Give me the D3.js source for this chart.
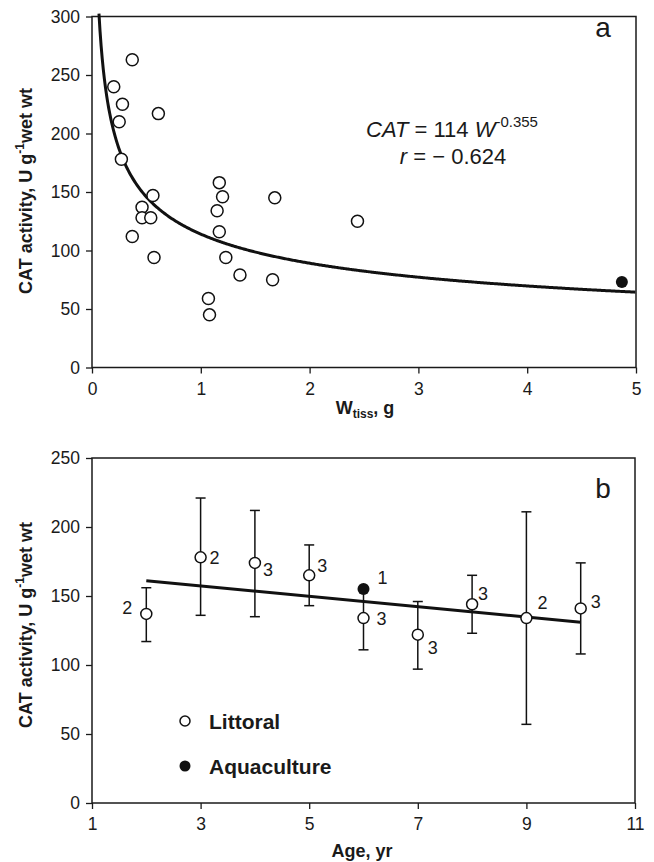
<!DOCTYPE html>
<html>
<head>
<meta charset="utf-8">
<script src="https://cdn.jsdelivr.net/npm/d3@7"></script>
<style>
  body { margin: 0; background: #fff; }
  svg text { font-family: Arial, "Liberation Sans", sans-serif; fill: #1a1a1a; }
</style>
</head>
<body>
<svg id="chart" width="654" height="862"></svg>
<script>
// panel a: tissue weight (g) vs CAT activity
var wtissLittoral = [0.37, 0.20, 0.28, 0.25, 0.61, 0.27, 1.17, 1.20, 1.68, 1.15, 0.56, 0.46, 0.46, 0.54, 0.37, 1.17, 0.57, 1.23, 1.36, 1.66, 1.07, 1.08, 2.44];
var catLittoral = [263, 240, 225, 210, 217, 178, 158, 146, 145, 134, 147, 137, 128, 128, 112, 116, 94, 94, 79, 75, 59, 45, 125];
var wtissAqua = [4.87];
var catAqua = [73];
var fitA = 114, fitB = -0.355;
var xTicksA = [0, 1, 2, 3, 4, 5];
var yTicksA = [0, 50, 100, 150, 200, 250, 300];

// panel b: age vs CAT activity (mean, upper, lower, n)
var ages = [2, 3, 4, 5, 6, 7, 8, 9, 10];
var meanB = [137, 178, 174, 165, 134, 122, 144, 134, 141];
var upperB = [156, 221, 212, 187, 156, 146, 165, 211, 174];
var lowerB = [117, 136, 135, 143, 111, 97, 123, 57, 108];
var nB = [2, 2, 3, 3, 3, 3, 3, 2, 3];
var aquaAge = [6], aquaMean = [155], aquaN = [1];
var trendAge = [2, 10], trendCat = [161, 131];
var xTicksB = [1, 3, 5, 7, 9, 11];
var yTicksB = [0, 50, 100, 150, 200, 250];

// label offsets for n (layout only)
var nOffset = [[-19, -6], [14, 0], [13, 7], [13, -10], [18, 0], [15, 13], [11, -11], [16, -16], [15, -7]];

var svg = d3.select('#chart');

function frame(g, x, y, xt, yt) {
    var x0 = x.range()[0], x1 = x.range()[1], y0 = y.range()[0], y1 = y.range()[1];
    g.append('g').attr('transform', `translate(0,${y0})`)
        .call(d3.axisBottom(x).tickValues(xt).tickFormat(d3.format('d')).tickSize(6).tickPadding(9))
        .call(a => a.select('.domain').remove());
    g.append('g').attr('transform', `translate(${x0},0)`)
        .call(d3.axisLeft(y).tickValues(yt).tickFormat(d3.format('d')).tickSize(6).tickPadding(6))
        .call(a => a.select('.domain').remove());
    g.selectAll('.tick line').attr('stroke', '#1a1a1a').attr('stroke-width', 1.3);
    g.selectAll('.tick text').style('font-size', '17.5px').attr('fill', '#1a1a1a');
    g.append('rect')
        .attr('x', x0).attr('y', y1)
        .attr('width', x1 - x0).attr('height', y0 - y1)
        .attr('fill', 'none').attr('stroke', '#1a1a1a').attr('stroke-width', 1.5);
}

function yTitle(cy) {
    var t = svg.append('text')
        .attr('transform', `translate(32,${cy}) rotate(-90)`)
        .attr('text-anchor', 'middle')
        .style('font-size', '18px').style('font-weight', 'bold');
    t.append('tspan').text('CAT activity, U g');
    t.append('tspan').attr('dy', -8).style('font-size', '12px').text('-1');
    t.append('tspan').attr('dy', 8).text('wet wt');
}

// ---------- panel a ----------
var xa = d3.scaleLinear().domain([0, 5]).range([92, 636]);
var ya = d3.scaleLinear().domain([0, 300]).range([367.5, 16.5]);
var ga = svg.append('g');
frame(ga, xa, ya, xTicksA, yTicksA);

var curveW = d3.range(0.064, 5.0001, 0.01);
ga.append('path')
    .datum(curveW)
    .attr('fill', 'none').attr('stroke', '#111').attr('stroke-width', 3)
    .attr('d', d3.line().x(w => xa(w)).y(w => ya(fitA * Math.pow(w, fitB))));

ga.selectAll('.lit').data(wtissLittoral).enter().append('circle')
    .attr('cx', d => xa(d)).attr('cy', (d, i) => ya(catLittoral[i])).attr('r', 6)
    .attr('fill', '#fff').attr('stroke', '#111').attr('stroke-width', 1.5);
ga.selectAll('.aq').data(wtissAqua).enter().append('circle')
    .attr('cx', d => xa(d)).attr('cy', (d, i) => ya(catAqua[i])).attr('r', 6)
    .attr('fill', '#111');

var f1 = ga.append('text').attr('x', 452).attr('y', 137).attr('text-anchor', 'middle').style('font-size', '22px');
f1.append('tspan').style('font-style', 'italic').text('CAT');
f1.append('tspan').text(' = 114 ');
f1.append('tspan').style('font-style', 'italic').text('W');
f1.append('tspan').attr('dy', -10).style('font-size', '15px').text('-0.355');
var f2 = ga.append('text').attr('x', 453).attr('y', 164).attr('text-anchor', 'middle').style('font-size', '22px');
f2.append('tspan').style('font-style', 'italic').text('r');
f2.append('tspan').text(' = \u2212 0.624');
ga.append('text').attr('x', 603).attr('y', 37).attr('text-anchor', 'middle').style('font-size', '28px').text('a');

var wt = svg.append('text').attr('x', 365).attr('y', 414).attr('text-anchor', 'middle')
    .style('font-size', '18px').style('font-weight', 'bold');
wt.append('tspan').text('W');
wt.append('tspan').attr('dy', 4).style('font-size', '12px').text('tiss');
wt.append('tspan').attr('dy', -4).text(', g');
yTitle(191);

// ---------- panel b ----------
var xb = d3.scaleLinear().domain([1, 11]).range([92, 635]);
var yb = d3.scaleLinear().domain([0, 250]).range([803, 458]);
var gb = svg.append('g');
frame(gb, xb, yb, xTicksB, yTicksB);

var bars = gb.selectAll('.err').data(ages).enter().append('g').attr('stroke', '#111').attr('stroke-width', 1.5);
bars.append('line').attr('x1', d => xb(d)).attr('x2', d => xb(d))
    .attr('y1', (d, i) => yb(upperB[i])).attr('y2', (d, i) => yb(lowerB[i]));
bars.append('line').attr('x1', d => xb(d) - 5).attr('x2', d => xb(d) + 5)
    .attr('y1', (d, i) => yb(upperB[i])).attr('y2', (d, i) => yb(upperB[i]));
bars.append('line').attr('x1', d => xb(d) - 5).attr('x2', d => xb(d) + 5)
    .attr('y1', (d, i) => yb(lowerB[i])).attr('y2', (d, i) => yb(lowerB[i]));

gb.append('path')
    .datum(trendAge)
    .attr('fill', 'none').attr('stroke', '#111').attr('stroke-width', 3)
    .attr('d', d3.line().x(a => xb(a)).y((a, i) => yb(trendCat[i])));

gb.selectAll('.mb').data(ages).enter().append('circle')
    .attr('cx', d => xb(d)).attr('cy', (d, i) => yb(meanB[i])).attr('r', 5.5)
    .attr('fill', '#fff').attr('stroke', '#111').attr('stroke-width', 1.5);
gb.selectAll('.ab').data(aquaAge).enter().append('circle')
    .attr('cx', d => xb(d)).attr('cy', (d, i) => yb(aquaMean[i])).attr('r', 6)
    .attr('fill', '#111');

gb.selectAll('.nl').data(ages).enter().append('text')
    .attr('x', (d, i) => xb(d) + nOffset[i][0]).attr('y', (d, i) => yb(meanB[i]) + nOffset[i][1])
    .attr('text-anchor', 'middle').attr('dy', '0.36em').style('font-size', '18px')
    .text((d, i) => nB[i]);
gb.selectAll('.na').data(aquaAge).enter().append('text')
    .attr('x', d => xb(d) + 19).attr('y', (d, i) => yb(aquaMean[i]) - 12)
    .attr('text-anchor', 'middle').attr('dy', '0.36em').style('font-size', '18px')
    .text((d, i) => aquaN[i]);

gb.append('text').attr('x', 603).attr('y', 498).attr('text-anchor', 'middle').style('font-size', '28px').text('b');

// legend
var legend = gb.append('g').attr('transform', 'translate(185,721)');
legend.append('circle').attr('r', 5).attr('fill', '#fff').attr('stroke', '#111').attr('stroke-width', 1.5);
legend.append('text').attr('x', 24).attr('dy', '0.36em').style('font-size', '21px').style('font-weight', 'bold').text('Littoral');
legend.append('circle').attr('cy', 45).attr('r', 5.5).attr('fill', '#111');
legend.append('text').attr('x', 24).attr('y', 45).attr('dy', '0.36em').style('font-size', '21px').style('font-weight', 'bold').text('Aquaculture');

svg.append('text').attr('x', 362).attr('y', 857).attr('text-anchor', 'middle')
    .style('font-size', '18px').style('font-weight', 'bold').text('Age, yr');
yTitle(625);
</script>
</body>
</html>
